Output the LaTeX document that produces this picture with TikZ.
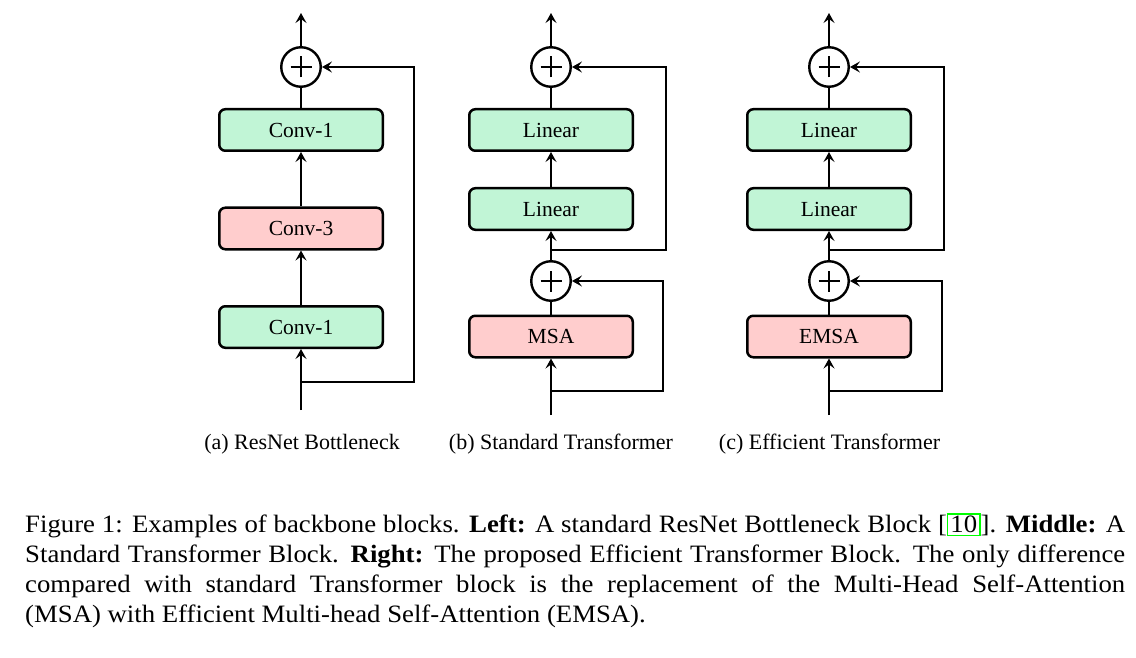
\documentclass[tikz,border=0pt]{standalone}
\usepackage{fontspec}
\setmainfont{Liberation Serif}
\newfontfamily\captionserif[FakeStretch=1.07]{Liberation Serif}
\usetikzlibrary{arrows.meta}

\definecolor{convgreen}{RGB}{193,245,214}
\definecolor{convpink}{RGB}{255,205,205}
\definecolor{citegreen}{RGB}{0,255,0}

% green frame drawn round a citation number
\newcommand{\citeframe}[1]{\begingroup\setlength{\fboxsep}{0pt}\setlength{\fboxrule}{1.5pt}%
  \fcolorbox{citegreen}{white}{\kern2pt\rule[-2pt]{0pt}{20pt}#1\kern2pt}\endgroup}

\tikzset{
  block/.style={draw, line width=2.5pt, rounded corners=6pt, minimum width=163.5pt,
    minimum height=41.5pt, inner sep=0pt, font=\fontsize{21.5}{26}\selectfont},
  greenblock/.style={block, fill=convgreen},
  pinkblock/.style={block, fill=convpink},
  adder/.style={draw, circle, line width=2.4pt, minimum size=39.5pt, inner sep=0pt,
    path picture={
      \draw[line width=2.4pt] ([xshift=-10.5pt]path picture bounding box.center)
        -- ([xshift=10.5pt]path picture bounding box.center);
      \draw[line width=2.4pt] ([yshift=-10.5pt]path picture bounding box.center)
        -- ([yshift=10.5pt]path picture bounding box.center);}},
  arrowline/.style={line width=2.5pt, -{Stealth[length=10pt,width=11pt,inset=4pt]}},
  plainline/.style={line width=2.5pt},
  sublabel/.style={font=\fontsize{22}{26}\selectfont, anchor=base, inner sep=0pt},
}

\begin{document}
\begin{tikzpicture}[x=1pt, y=-1pt]
\useasboundingbox (0,0) rectangle (1136,658);

% ---------- (a) ResNet bottleneck ----------
\node[greenblock] (a1) at (301,327) {Conv-1};
\node[pinkblock]  (a2) at (301,228.5) {Conv-3};
\node[greenblock] (a3) at (301,130) {Conv-1};
\node[adder] (aplus) at (301,67) {};
\coordinate (ain)  at (301,410);
\coordinate (abr)  at (301,382);
\coordinate (aout) at (301,13);
\coordinate (ar1)  at (414,382);
\coordinate (ar2)  at (414,67);
\draw[arrowline] (ain) -- (a1);
\draw[arrowline] (a1) -- (a2);
\draw[arrowline] (a2) -- (a3);
\draw[plainline] (a3) -- (aplus);
\draw[arrowline] (aplus) -- (aout);
\draw[arrowline] (abr) -- (ar1) -- (ar2) -- (aplus);
\node[sublabel] (alab) at (302,449) {(a) ResNet Bottleneck};

% ---------- (b) standard Transformer ----------
\node[pinkblock]  (b1) at (551,336.5) {MSA};
\node[adder] (bplus1) at (551,281) {};
\node[greenblock] (b2) at (551,209) {Linear};
\node[greenblock] (b3) at (551,130) {Linear};
\node[adder] (bplus2) at (551,67) {};
\coordinate (bin)  at (551,415);
\coordinate (bbr1) at (551,391);
\coordinate (bbr2) at (551,250);
\coordinate (bout) at (551,13);
\coordinate (br1)  at (663,391);
\coordinate (br2)  at (663,281);
\coordinate (br3)  at (666,250);
\coordinate (br4)  at (666,67);
\draw[arrowline] (bin) -- (b1);
\draw[plainline] (b1) -- (bplus1);
\draw[arrowline] (bplus1) -- (b2);
\draw[arrowline] (b2) -- (b3);
\draw[plainline] (b3) -- (bplus2);
\draw[arrowline] (bplus2) -- (bout);
\draw[arrowline] (bbr1) -- (br1) -- (br2) -- (bplus1);
\draw[arrowline] (bbr2) -- (br3) -- (br4) -- (bplus2);
\node[sublabel] (blab) at (561,449) {(b) Standard Transformer};

% ---------- (c) efficient Transformer ----------
\node[pinkblock]  (c1) at (829,336.5) {EMSA};
\node[adder] (cplus1) at (829,281) {};
\node[greenblock] (c2) at (829,209) {Linear};
\node[greenblock] (c3) at (829,130) {Linear};
\node[adder] (cplus2) at (829,67) {};
\coordinate (cin)  at (829,415);
\coordinate (cbr1) at (829,391);
\coordinate (cbr2) at (829,250);
\coordinate (cout) at (829,13);
\coordinate (cr1)  at (942,391);
\coordinate (cr2)  at (942,281);
\coordinate (cr3)  at (944,250);
\coordinate (cr4)  at (944,67);
\draw[arrowline] (cin) -- (c1);
\draw[plainline] (c1) -- (cplus1);
\draw[arrowline] (cplus1) -- (c2);
\draw[arrowline] (c2) -- (c3);
\draw[plainline] (c3) -- (cplus2);
\draw[arrowline] (cplus2) -- (cout);
\draw[arrowline] (cbr1) -- (cr1) -- (cr2) -- (cplus1);
\draw[arrowline] (cbr2) -- (cr3) -- (cr4) -- (cplus2);
\node[sublabel] (clab) at (829.5,449) {(c) Efficient Transformer};

% ---------- caption ----------
\node[anchor=north west, inner sep=0pt, text width=1100pt, align=justify,
      font=\captionserif\fontsize{25}{30}\selectfont] (caption) at (25,511.5)
{\strut Figure 1: Examples of backbone blocks. \textbf{Left:} A standard ResNet Bottleneck Block
[\citeframe{10}]. \textbf{Middle:} A\linebreak
Standard Transformer Block. \textbf{Right:} The proposed Efficient Transformer Block. The only difference\linebreak
compared with standard Transformer block is the replacement of the Multi-Head Self-Attention\linebreak
(MSA) with Efficient Multi-head Self-Attention (EMSA).};
\end{tikzpicture}
\end{document}
